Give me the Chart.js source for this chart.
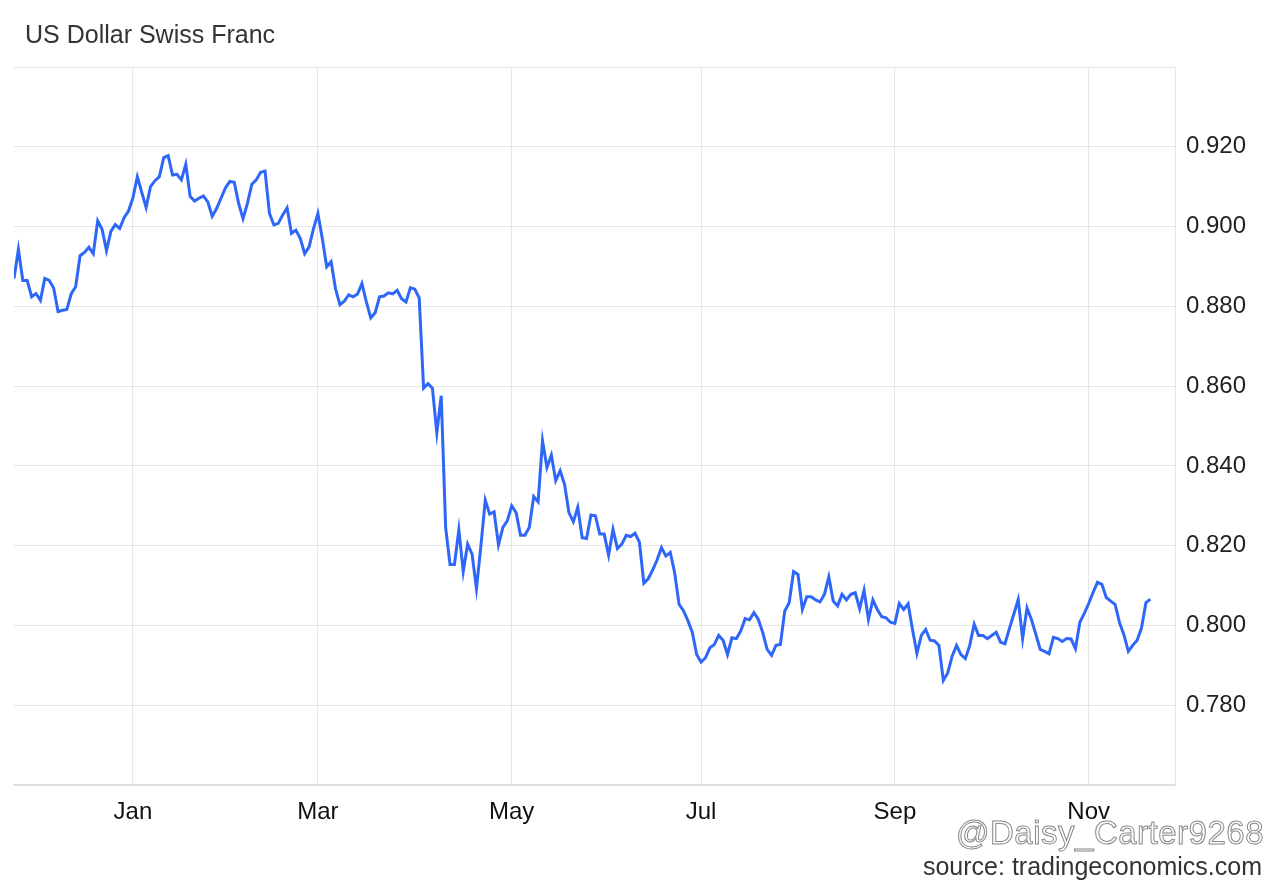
<!DOCTYPE html>
<html>
<head>
<meta charset="utf-8">
<script src="https://cdn.jsdelivr.net/npm/chart.js@4/dist/chart.umd.min.js"></script>
<style>
    html, body { margin: 0; padding: 0; background: #fff; }
    body { width: 1280px; height: 887px; position: relative; overflow: hidden; font-family: "Liberation Sans", Arial, sans-serif; }
    #chart { position: absolute; left: 0; top: 0; }
    .title { position: absolute; left: 25px; top: 19px; font-size: 25px; line-height: 30px; color: #333; }
    .mark { position: absolute; right: 16px; top: 813px; font-size: 33px; line-height: 40px; color: #fff; -webkit-text-stroke: 1px #888; letter-spacing: 0.5px; }
    .source { position: absolute; right: 18px; top: 851px; font-size: 25px; line-height: 30px; color: #333; }
</style>
</head>
<body>
<canvas id="chart" width="1280" height="887"></canvas>
<div class="title" id="title"></div>
<div class="mark">@Daisy_Carter9268</div>
<div class="source">source: tradingeconomics.com</div>
<script>
const TITLE = 'US Dollar Swiss Franc';

// first trading day of the series, one value per weekday after it
const START_DATE = '2024-11-25';

const USDCHF = [
    0.8870, 0.8943, 0.8865, 0.8865, 0.8824, 0.8832, 0.8815, 0.8870, 0.8865, 0.8846,
    0.8787, 0.8790, 0.8792, 0.8832, 0.8849, 0.8927, 0.8935, 0.8948, 0.8932, 0.9014,
    0.8993, 0.8940, 0.8988, 0.9005, 0.8995, 0.9022, 0.9039, 0.9072, 0.9125, 0.9086,
    0.9048, 0.9100, 0.9115, 0.9125, 0.9173, 0.9178, 0.9129, 0.9131, 0.9117, 0.9156,
    0.9075, 0.9064, 0.9071, 0.9077, 0.9062, 0.9026, 0.9045, 0.9071, 0.9097, 0.9113,
    0.9111, 0.9058, 0.9020, 0.9058, 0.9106, 0.9117, 0.9136, 0.9139, 0.9033, 0.9004,
    0.9008, 0.9029, 0.9047, 0.8983, 0.8991, 0.8970, 0.8932, 0.8949, 0.8995, 0.9033,
    0.8970, 0.8899, 0.8912, 0.8844, 0.8804, 0.8813, 0.8829, 0.8824, 0.8831, 0.8857,
    0.8811, 0.8771, 0.8784, 0.8824, 0.8826, 0.8834, 0.8831, 0.8840, 0.8819, 0.8811,
    0.8847, 0.8843, 0.8821, 0.8595, 0.8606, 0.8595, 0.8483, 0.8576, 0.8246, 0.8153,
    0.8153, 0.8240, 0.8135, 0.8204, 0.8179, 0.8092, 0.8199, 0.8314, 0.8279, 0.8285,
    0.8202, 0.8246, 0.8262, 0.8300, 0.8283, 0.8226, 0.8226, 0.8246, 0.8323, 0.8310,
    0.8463, 0.8396, 0.8427, 0.8363, 0.8388, 0.8354, 0.8283, 0.8260, 0.8296, 0.8220,
    0.8218, 0.8277, 0.8275, 0.8229, 0.8229, 0.8176, 0.8241, 0.8193, 0.8204, 0.8226,
    0.8223, 0.8231, 0.8209, 0.8106, 0.8117, 0.8139, 0.8164, 0.8195, 0.8174, 0.8183,
    0.8132, 0.8053, 0.8037, 0.8012, 0.7983, 0.7927, 0.7908, 0.7919, 0.7944, 0.7952,
    0.7975, 0.7963, 0.7927, 0.7969, 0.7967, 0.7986, 0.8017, 0.8014, 0.8032, 0.8015,
    0.7982, 0.7940, 0.7925, 0.7950, 0.7952, 0.8036, 0.8057, 0.8135, 0.8128, 0.8040,
    0.8072, 0.8072, 0.8064, 0.8059, 0.8078, 0.8122, 0.8061, 0.8049, 0.8078, 0.8064,
    0.8078, 0.8082, 0.8042, 0.8088, 0.8015, 0.8064, 0.8040, 0.8022, 0.8019, 0.8008,
    0.8005, 0.8055, 0.8040, 0.8054, 0.7990, 0.7930, 0.7975, 0.7990, 0.7963, 0.7961,
    0.7950, 0.7862, 0.7881, 0.7923, 0.7950, 0.7927, 0.7917, 0.7950, 0.8003, 0.7975,
    0.7975, 0.7967, 0.7975, 0.7983, 0.7958, 0.7954, 0.7992, 0.8028, 0.8065, 0.7967,
    0.8044, 0.8015, 0.7978, 0.7940, 0.7935, 0.7929, 0.7970, 0.7967, 0.7960, 0.7967,
    0.7966, 0.7942, 0.8008, 0.8030, 0.8055, 0.8083, 0.8108, 0.8103, 0.8070, 0.8061,
    0.8053, 0.8007, 0.7977, 0.7935, 0.7950, 0.7963, 0.7994, 0.8057, 0.8066,
];

const MONTH_TICK_DATES  = ['2025-01-01', '2025-03-01', '2025-05-01', '2025-07-01', '2025-09-01', '2025-11-01'];
const MONTH_TICK_LABELS = ['Jan', 'Mar', 'May', 'Jul', 'Sep', 'Nov'];

// x axis runs over trading-day slots; a few empty slots after the last value
const X_SLOTS = 263.6;
const Y_RANGE = { min: 0.76, max: 0.94, step: 0.02 };

const FONT = '"Liberation Sans", Arial, sans-serif';
const LINE_COLOR = '#2e67f8';
const GRID_COLOR = '#e6e6e6';

const DAY_MS = 86400000;

/** weekday timestamps starting at START_DATE, as many as the series */
function tradingDays(start, count) {
    const days = [];
    let t = Date.parse(start);
    while (days.length < count) {
        const wd = new Date(t).getUTCDay();
        if (wd !== 0 && wd !== 6) days.push(t);
        t += DAY_MS;
    }
    return days;
}

/** slot of the last trading day on or before the given date */
const slotOf = (days, date) => {
    const t = Date.parse(date);
    return days.filter(d => d <= t).length - 1;
};

function init() {
    document.getElementById('title').textContent = TITLE;

    const days = tradingDays(START_DATE, USDCHF.length);
    const points = USDCHF.map((y, i) => ({ x: i, y }));
    const monthTicks = MONTH_TICK_DATES.map(d => slotOf(days, d));

    new Chart(document.getElementById('chart').getContext('2d'), {
        type: 'line',
        data: {
            datasets: [{
                data:        points,
                borderColor: LINE_COLOR,
                borderWidth: 3,
                pointRadius: 0,
                tension:     0,
                fill:        false,
            }],
        },
        options: {
            responsive: false,
            animation: false,
            layout: { padding: { left: 14, top: 67, right: 0, bottom: 0 } },
            scales: {
                x: {
                    type: 'linear',
                    min: 0,
                    max: X_SLOTS,
                    afterBuildTicks: scale => { scale.ticks = monthTicks.map(value => ({ value })); },
                    afterFit: scale => { scale.height = 102; },
                    grid: { color: GRID_COLOR, drawTicks: false },
                    border: { color: '#e0e0e0', width: 2 },
                    ticks: {
                        autoSkip: false,
                        maxRotation: 0,
                        padding: 13,
                        color: '#111',
                        font: { family: FONT, size: 24 },
                        callback: value => MONTH_TICK_LABELS[monthTicks.indexOf(value)] ?? '',
                    },
                },
                y: {
                    position: 'right',
                    min: Y_RANGE.min,
                    max: Y_RANGE.max,
                    afterFit: scale => { scale.width = 105; },
                    grid: { color: GRID_COLOR, drawTicks: false },
                    border: { color: GRID_COLOR, width: 1 },
                    ticks: {
                        stepSize: Y_RANGE.step,
                        padding: 11,
                        color: '#222',
                        font: { family: FONT, size: 24 },
                        callback: (value, i, ticks) =>
                            i === 0 || i === ticks.length - 1 ? '' : value.toFixed(3),
                    },
                },
            },
            plugins: {
                legend:  { display: false },
                tooltip: { enabled: false },
            },
        },
    });
}

document.addEventListener('DOMContentLoaded', init);
</script>
</body>
</html>
